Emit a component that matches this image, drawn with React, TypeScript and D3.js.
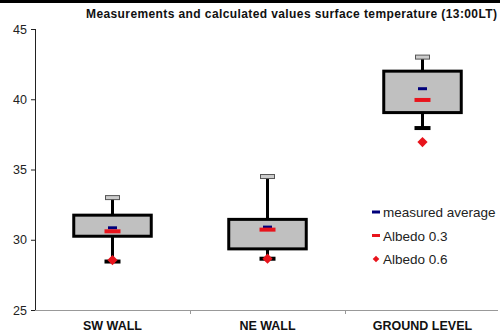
import React from 'react';
import * as d3 from 'd3';

const categories = ['SW WALL', 'NE WALL', 'GROUND LEVEL'];
const whiskerHigh = [33.0, 34.5, 43.0];
const boxHigh = [31.75, 31.45, 42.0];
const boxLow = [30.25, 29.35, 39.05];
const whiskerLow = [28.45, 28.65, 37.95];
const measuredAvg = [30.85, 30.9, 40.75];
const albedo03 = [30.6, 30.72, 39.95];
const albedo06 = [28.55, 28.65, 36.95];
const yTicks = [25, 30, 35, 40, 45];

const W = 500;
const H = 334;
const margin = { top: 29, right: 0, bottom: 24, left: 35 };

export default function App() {
  const x = d3
    .scaleBand()
    .domain(categories)
    .range([margin.left, W - margin.right]);
  const y = d3
    .scaleLinear()
    .domain([25, 45])
    .range([H - margin.bottom, margin.top]);

  const bw = x.bandwidth() * 0.5;
  // square turned 45deg, like the excel marker
  const diamond = d3.symbol(d3.symbolSquare, 52)();
  const legendDiamond = d3.symbol(d3.symbolSquare, 22)();

  const legend = [
    { label: 'measured average', kind: 'blue' },
    { label: 'Albedo 0.3', kind: 'red' },
    { label: 'Albedo 0.6', kind: 'diamond' },
  ];

  return (
    <svg
      width={W}
      height={H}
      style={{ position: 'absolute', left: 0, top: 0, background: '#fff' }}
      fontFamily="Arial, 'Liberation Sans', sans-serif"
    >
      <rect x={0} y={0} width={W} height={3} fill="#000" />
      <text
        x={86}
        y={18}
        fontSize={12}
        fontWeight="bold"
        fill="#111"
        textLength={411}
        lengthAdjust="spacing"
      >
        Measurements and calculated  values surface temperature (13:00LT)
      </text>

      {/* y axis */}
      <line
        x1={margin.left + 0.5}
        x2={margin.left + 0.5}
        y1={y(45)}
        y2={y(25)}
        stroke="#222"
      />
      {yTicks.map((t) => (
        <g key={t}>
          <line
            x1={margin.left - 4}
            x2={margin.left}
            y1={y(t) + 0.5}
            y2={y(t) + 0.5}
            stroke="#222"
          />
          <text x={27} y={y(t) + 4.5} textAnchor="end" fontSize={12.5} fill="#222">
            {t}
          </text>
        </g>
      ))}

      {/* x axis */}
      <line
        x1={margin.left}
        x2={W - 2}
        y1={y(25) + 0.5}
        y2={y(25) + 0.5}
        stroke="#999"
      />
      {categories.slice(1).map((c) => (
        <line
          key={c}
          x1={x(c)! + 0.5}
          x2={x(c)! + 0.5}
          y1={y(25)}
          y2={y(25) + 4}
          stroke="#999"
        />
      ))}
      {categories.map((c) => (
        <text
          key={c}
          x={x(c)! + x.bandwidth() / 2}
          y={330}
          textAnchor="middle"
          fontSize={12.5}
          fontWeight="bold"
          fill="#111"
        >
          {c}
        </text>
      ))}

      {/* boxes */}
      {categories.map((c, i) => {
        const cx = x(c)! + x.bandwidth() / 2;
        return (
          <g key={c}>
            <line x1={cx} x2={cx} y1={y(whiskerHigh[i])} y2={y(whiskerLow[i])} stroke="#000" strokeWidth={3} />
            <rect
              x={cx - 7}
              y={y(whiskerHigh[i]) - 2}
              width={14}
              height={4}
              fill="#ccc"
              stroke="#555"
              strokeWidth={1}
            />
            <rect x={cx - 8} y={y(whiskerLow[i]) - 2} width={16} height={4} fill="#000" />
            <rect
              x={cx - bw / 2}
              y={y(boxHigh[i])}
              width={bw}
              height={y(boxLow[i]) - y(boxHigh[i])}
              fill="#c0c0c0"
              stroke="#000"
              strokeWidth={3}
            />
            <rect x={cx - 4.5} y={y(measuredAvg[i]) - 1.5} width={9} height={3} fill="#00007a" />
            <rect x={cx - 8} y={y(albedo03[i]) - 2} width={16} height={4} fill="#e8141c" />
            <path
              d={diamond!}
              transform={`translate(${cx},${y(albedo06[i])}) rotate(45)`}
              fill="#e8141c"
            />
          </g>
        );
      })}

      {/* legend */}
      {legend.map((l, i) => {
        const ly = 212 + i * 23.5;
        return (
          <g key={l.label}>
            {l.kind === 'blue' && <rect x={372} y={ly - 1.5} width={8} height={3} fill="#00007a" />}
            {l.kind === 'red' && <rect x={372} y={ly - 1.5} width={8} height={3} fill="#e8141c" />}
            {l.kind === 'diamond' && (
              <path d={legendDiamond!} transform={`translate(376,${ly}) rotate(45)`} fill="#e8141c" />
            )}
            <text x={383} y={ly + 5} fontSize={13.5} fill="#222">
              {l.label}
            </text>
          </g>
        );
      })}
    </svg>
  );
}
